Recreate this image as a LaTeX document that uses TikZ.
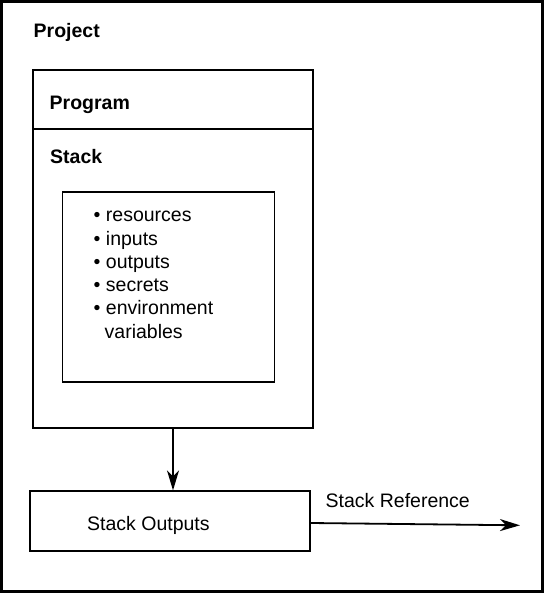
\documentclass[tikz,border=0pt]{standalone}
\usepackage{fontspec}
\setmainfont{Liberation Sans}
\usetikzlibrary{arrows.meta}
\begin{document}
\begin{tikzpicture}[x=1pt,y=-1pt,
  box/.style={draw=black,line width=1.8pt,inner sep=0pt,fill=none},
  txt/.style={inner sep=0pt,anchor=base west,font=\fontsize{19.5}{23.4}\selectfont},
  btxt/.style={txt,font=\fontsize{19.5}{23.4}\selectfont\bfseries},
  arr/.style={line width=1.8pt,-{Stealth[length=20pt,width=12pt,inset=6pt]}}]
\useasboundingbox (0,0) rectangle (544,593);
% outer project frame
\node[box,line width=3pt,minimum width=541pt,minimum height=589.5pt] (project) at (272,296.5) {};
\node[btxt] (projectlbl) at (33.5,37.3) {Project};
% program / stack box
\node[box,minimum width=280pt,minimum height=357.7pt] (program) at (173,248.85) {};
\coordinate (divl) at (33,129.3);
\coordinate (divr) at (313,129.3);
\draw[line width=1.8pt] (divl) -- (divr);
\node[btxt] (programlbl) at (49.5,110) {Program};
\node[btxt] (stacklbl) at (50,164) {Stack};
% inner list box
\node[box,minimum width=212pt,minimum height=189.7pt] (inner) at (168.5,287.15) {};
\node[txt] (l1) at (93.5,222) {\textbullet\ resources};
\node[txt] (l2) at (93.5,245.2) {\textbullet\ inputs};
\node[txt] (l3) at (93.5,268.4) {\textbullet\ outputs};
\node[txt] (l4) at (93.5,291.6) {\textbullet\ secrets};
\node[txt] (l5) at (93.5,314.8) {\textbullet\ environment};
\node[txt] (l6) at (104.5,338) {variables};
% stack outputs
\node[box,minimum width=279.7pt,minimum height=59.4pt] (outputs) at (169.9,521) {};
\node[txt] (outlbl) at (87,530) {Stack Outputs};
\draw[arr] (program.south) -- (program.south |- outputs.north);
% stack reference
\coordinate (refend) at (520,525.3);
\draw[arr] ([yshift=-2pt]outputs.east) -- (refend);
\node[txt] (reflbl) at (325.5,507) {Stack Reference};
\end{tikzpicture}
\end{document}
